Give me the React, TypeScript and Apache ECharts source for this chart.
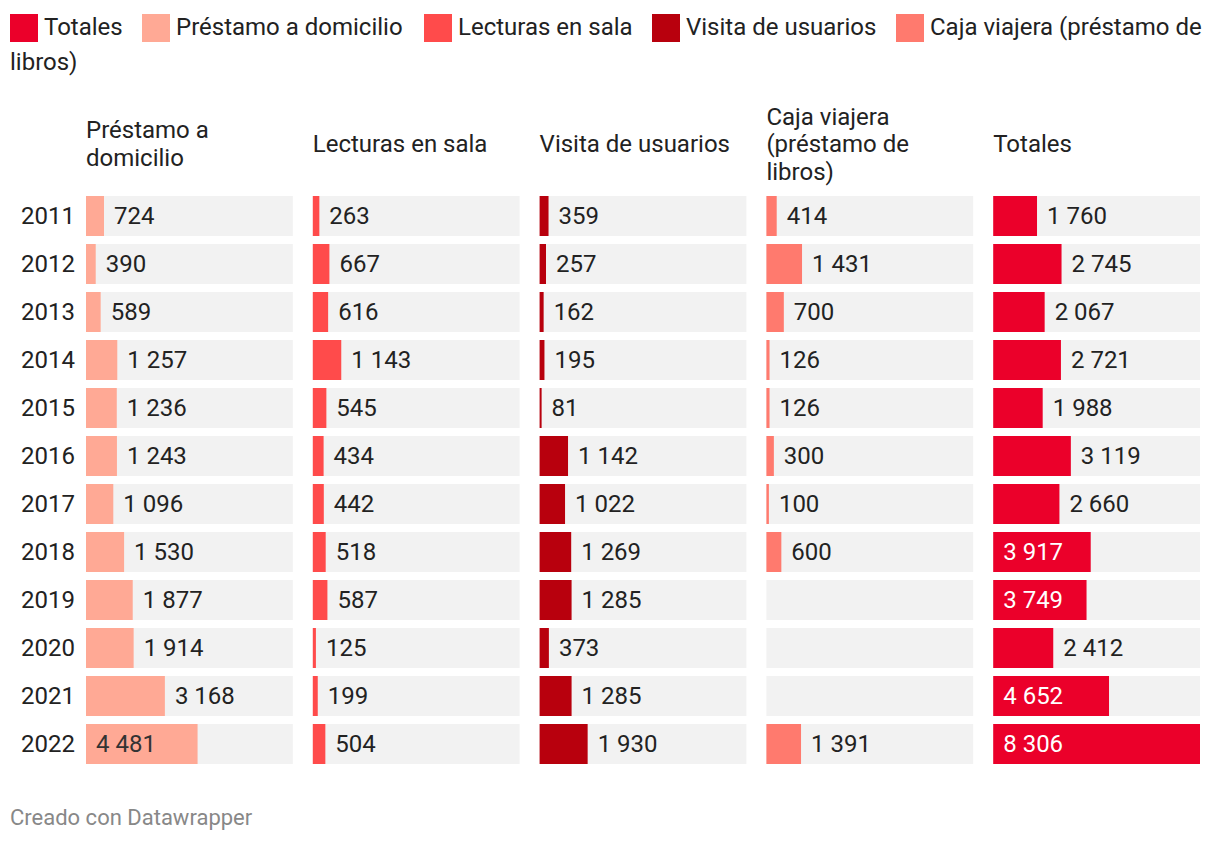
import React, { useEffect, useRef } from "react";
import * as echarts from "echarts";

const years = ["2011", "2012", "2013", "2014", "2015", "2016", "2017", "2018", "2019", "2020", "2021", "2022"];
const prestamo = [724, 390, 589, 1257, 1236, 1243, 1096, 1530, 1877, 1914, 3168, 4481];
const lecturas = [263, 667, 616, 1143, 545, 434, 442, 518, 587, 125, 199, 504];
const visita = [359, 257, 162, 195, 81, 1142, 1022, 1269, 1285, 373, 1285, 1930];
const caja: (number | null)[] = [414, 1431, 700, 126, 126, 300, 100, 600, null, null, null, 1391];
const totales = [1760, 2745, 2067, 2721, 1988, 3119, 2660, 3917, 3749, 2412, 4652, 8306];

const panelHeaders = ["Préstamo a\ndomicilio", "Lecturas en sala", "Visita de usuarios", "Caja viajera\n(préstamo de\nlibros)", "Totales"];
const seriesNames = ["Préstamo a domicilio", "Lecturas en sala", "Visita de usuarios", "Caja viajera (préstamo de libros)", "Totales"];
const panelData = [prestamo, lecturas, visita, caja, totales];
const colors = ["#ffa995", "#ff4b4b", "#b8000d", "#ff7a6e", "#eb002a"];
const insideColors = ["#333333", "#ffffff", "#ffffff", "#333333", "#ffffff"];

const legendOrder = [4, 0, 1, 2, 3];
const legendX = [10, 142, 424, 652, 896];

const FONT = "Roboto, sans-serif";
const TXT = "#222222";

function fmt(v: number) {
  return String(v).replace(/\B(?=(\d{3})+(?!\d))/g, " ");
}

export default function App() {
  const ref = useRef<HTMLDivElement>(null);
  useEffect(() => {
    if (!ref.current) return;
    const chart = echarts.init(ref.current, undefined, { renderer: "svg" });
    const maxV = Math.max(...totales);
    const left0 = 86;
    const pw = 206.8;
    const gap = 20;
    const top = 192;
    const gh = 576;

    const grids: any[] = [];
    const xAxes: any[] = [];
    const yAxes: any[] = [];
    const series: any[] = [];
    const graphics: any[] = [];

    panelData.forEach((arr, i) => {
      const left = left0 + i * (pw + gap);
      grids.push({ left, top, width: pw, height: gh, containLabel: false });
      xAxes.push({ type: "value", gridIndex: i, min: 0, max: maxV, show: false });
      yAxes.push({
        type: "category",
        gridIndex: i,
        data: years,
        inverse: true,
        axisLine: { show: false },
        axisTick: { show: false },
        splitLine: { show: false },
        axisLabel: {
          show: i === 0,
          fontSize: 24,
          color: TXT,
          fontFamily: FONT,
          margin: 11,
        },
      });
      series.push({
        type: "bar",
        name: "bg" + i,
        xAxisIndex: i,
        yAxisIndex: i,
        data: years.map(() => maxV),
        barWidth: 40,
        itemStyle: { color: "#f2f2f2" },
        silent: true,
        label: { show: false },
      });
      series.push({
        type: "bar",
        name: seriesNames[i],
        xAxisIndex: i,
        yAxisIndex: i,
        barWidth: 40,
        barGap: "-100%",
        itemStyle: { color: colors[i] },
        data: arr.map((v) => {
          if (v === null) return null;
          const inside = v > 0.4 * maxV;
          return {
            value: v,
            label: {
              show: true,
              position: inside ? "insideLeft" : "right",
              distance: 10,
              color: inside ? insideColors[i] : TXT,
              fontSize: 24,
              fontFamily: FONT,
              formatter: () => fmt(v),
            },
          };
        }),
      });
      graphics.push({
        type: "text",
        x: left,
        y: 144,
        style: {
          text: panelHeaders[i],
          fill: TXT,
          fontSize: 24,
          fontFamily: FONT,
          lineHeight: 27.5,
          verticalAlign: "middle",
          align: "left",
        },
      });
    });

    legendOrder.forEach((si, k) => {
      const x = legendX[k];
      graphics.push({
        type: "rect",
        shape: { x, y: 14, width: 28, height: 28 },
        style: { fill: colors[si] },
      });
      const label = si === 3 ? "Caja viajera (préstamo de" : seriesNames[si];
      graphics.push({
        type: "text",
        x: x + 34,
        y: 27,
        style: { text: label, fill: TXT, fontSize: 24, fontFamily: FONT, verticalAlign: "middle" },
      });
    });
    graphics.push({
      type: "text",
      x: 10,
      y: 62,
      style: { text: "libros)", fill: TXT, fontSize: 24, fontFamily: FONT, verticalAlign: "middle" },
    });
    graphics.push({
      type: "text",
      x: 10,
      y: 817,
      style: { text: "Creado con Datawrapper", fill: "#888888", fontSize: 22, fontFamily: FONT, verticalAlign: "middle" },
    });

    chart.setOption({
      animation: false,
      backgroundColor: "#ffffff",
      textStyle: { fontFamily: FONT },
      grid: grids,
      xAxis: xAxes,
      yAxis: yAxes,
      series,
      graphic: graphics,
    });
    return () => chart.dispose();
  }, []);
  return (
    <div
      ref={ref}
      style={{ position: "fixed", left: 0, top: 0, width: 1220, height: 842 }}
    />
  );
}
